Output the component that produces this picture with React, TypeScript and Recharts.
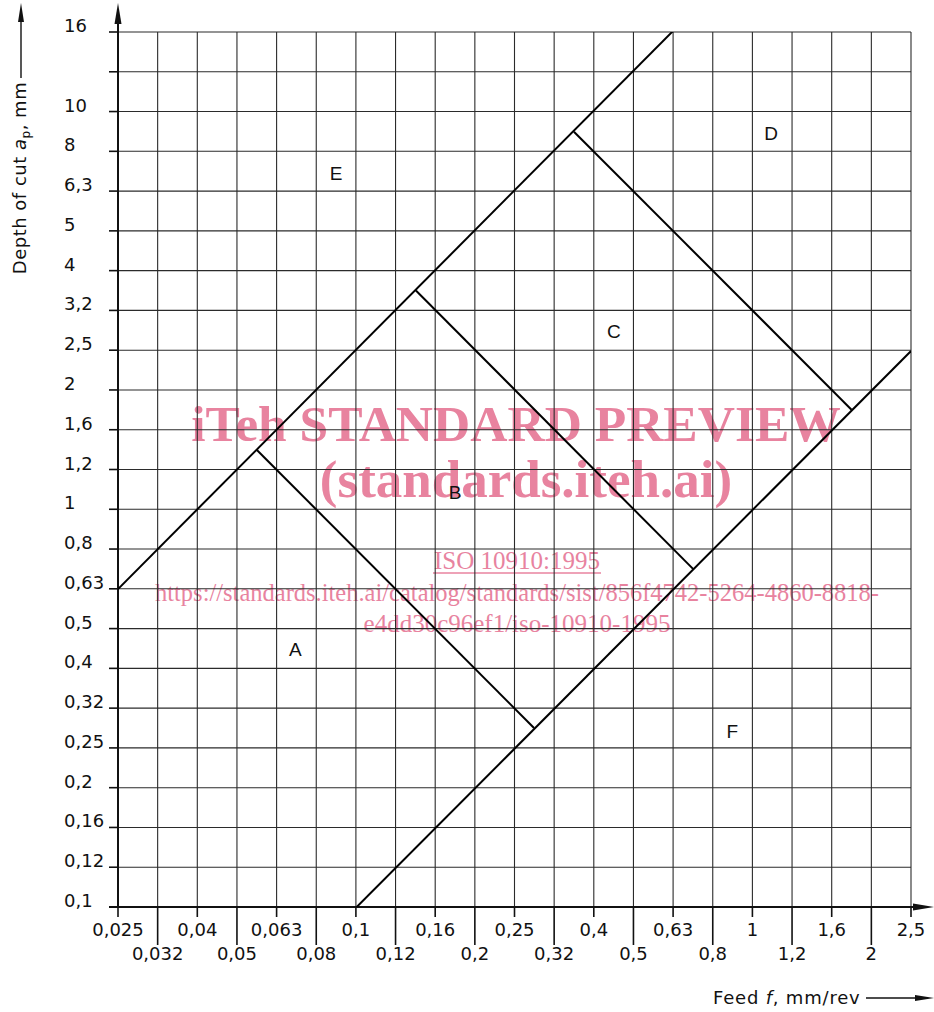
import React from 'react';
import {
  ComposedChart, Line, Scatter, XAxis, YAxis, CartesianGrid, Customized,
} from 'recharts';

const FEED_LABELS = [
  '0,025', '0,032', '0,04', '0,05', '0,063', '0,08', '0,1', '0,12', '0,16', '0,2', '0,25',
  '0,32', '0,4', '0,5', '0,63', '0,8', '1', '1,2', '1,6', '2', '2,5',
];
const DEPTH_LABELS = [
  '0,1', '0,12', '0,16', '0,2', '0,25', '0,32', '0,4', '0,5', '0,63', '0,8', '1', '1,2',
  '1,6', '2', '2,5', '3,2', '4', '5', '6,3', '8', '10', '', '16',
];

// grid lines sit on R10 preferred-number steps (10^0.1 apart)
const FEED_TICKS = FEED_LABELS.map((_, i) => 0.025 * 10 ** (i / 10));
const DEPTH_TICKS = DEPTH_LABELS.map((_, i) => 0.1 * 10 ** (i / 10));

// boundary lines, feed f in mm/rev, depth of cut ap in mm
const UPPER_LIMIT = [{ feed: 0.025, depth: 0.63 }, { feed: 0.63, depth: 16 }];
const LOWER_LIMIT = [{ feed: 0.1, depth: 0.1 }, { feed: 2.5, depth: 2.5 }];
const AB_LIMIT = [{ feed: 0.056, depth: 1.41 }, { feed: 0.28, depth: 0.282 }];
const BC_LIMIT = [{ feed: 0.141, depth: 3.55 }, { feed: 0.705, depth: 0.708 }];
const CD_LIMIT = [{ feed: 0.353, depth: 8.9 }, { feed: 1.77, depth: 1.78 }];

const REGIONS = [
  { name: 'E', feed: 0.0887, depth: 7.0 },
  { name: 'D', feed: 1.11, depth: 8.8 },
  { name: 'C', feed: 0.445, depth: 2.8 },
  { name: 'B', feed: 0.177, depth: 1.1 },
  { name: 'A', feed: 0.07, depth: 0.445 },
  { name: 'F', feed: 0.886, depth: 0.277 },
];

const W = 934;
const H = 1012;
const LEFT = 118;
const TOP = 32;
const RIGHT = 911;
const BOTTOM = 907;
const INK = '#111';
const LETTERING = '"DejaVu Sans", sans-serif';
const PINK = '#e8839f';

function DepthTick(props: any) {
  const { y, payload } = props;
  const i = props.index ?? DEPTH_TICKS.indexOf(payload.value);
  return (
    <g>
      <line x1={LEFT - 9} x2={LEFT} y1={y} y2={y} stroke={INK} strokeWidth={1.6} />
      <text x={64} y={y} fontSize={18} fontFamily={LETTERING} fill={INK}>
        {DEPTH_LABELS[i]}
      </text>
    </g>
  );
}

function FeedTick(props: any) {
  const { x, payload } = props;
  const i = props.index ?? FEED_TICKS.indexOf(payload.value);
  const low = i % 2 === 1;
  return (
    <g>
      <line x1={x} x2={x} y1={BOTTOM} y2={low ? BOTTOM + 38 : BOTTOM + 10} stroke={INK} strokeWidth={1.6} />
      <text x={x} y={low ? 960 : 936} textAnchor="middle" fontSize={18} fontFamily={LETTERING} fill={INK}>
        {FEED_LABELS[i]}
      </text>
    </g>
  );
}

function RegionLetter(props: any) {
  const { cx, cy, payload } = props;
  return (
    <text x={cx} y={cy} textAnchor="middle" dominantBaseline="central" fontSize={19}
      fontFamily='"Liberation Sans", Arial, sans-serif' fill={INK}>
      {payload.name}
    </text>
  );
}

function AxisDecor() {
  return (
    <g>
      {/* axis arrows */}
      <line x1={LEFT} x2={LEFT} y1={BOTTOM} y2={10} stroke={INK} strokeWidth={2} />
      <polygon points={`${LEFT},3 ${LEFT - 3.5},24 ${LEFT + 3.5},24`} fill={INK} />
      <line x1={LEFT - 9} x2={926} y1={BOTTOM} y2={BOTTOM} stroke={INK} strokeWidth={2} />
      <polygon points={`934,${BOTTOM} 913,${BOTTOM - 3.5} 913,${BOTTOM + 3.5}`} fill={INK} />
      {/* y title */}
      <text transform="translate(26,178) rotate(-90)" textAnchor="middle" fontSize={18}
        letterSpacing={0.5} fontFamily={LETTERING} fill={INK}>
        Depth of cut <tspan fontStyle="italic">a</tspan>
        <tspan fontSize={12} dy={4}>p</tspan>
        <tspan dy={-4}>, mm</tspan>
      </text>
      <line x1={21} x2={21} y1={78} y2={10} stroke={INK} strokeWidth={1.4} />
      <polygon points="21,3 18,22 24,22" fill={INK} />
      {/* x title */}
      <text x={713} y={1004} fontSize={18} letterSpacing={0.8} fontFamily={LETTERING} fill={INK}>
        Feed <tspan fontStyle="italic">f</tspan>, mm/rev
      </text>
      <line x1={866} x2={926} y1={998} y2={998} stroke={INK} strokeWidth={1.4} />
      <polygon points="934,998 915,995 915,1001" fill={INK} />
    </g>
  );
}

function Watermark() {
  const serif = '"Liberation Serif", "Times New Roman", serif';
  return (
    <svg width={W} height={H} style={{ position: 'absolute', left: 0, top: 0, zIndex: 0 }}>
      <text x={516} y={441} textAnchor="middle" fontSize={51.5} fontWeight="bold" fontFamily={serif} fill={PINK}>
        iTeh STANDARD PREVIEW
      </text>
      <text x={526} y={497} textAnchor="middle" fontSize={53} fontWeight="bold" fontFamily={serif} fill={PINK}>
        (standards.iteh.ai)
      </text>
      <text x={517} y={569} textAnchor="middle" fontSize={25} fontFamily={serif} fill={PINK}>
        ISO 10910:1995
      </text>
      <line x1={433} x2={601} y1={573} y2={573} stroke={PINK} strokeWidth={1.5} />
      <text x={517} y={601} textAnchor="middle" fontSize={24.5} fontFamily={serif} fill={PINK}>
        https://standards.iteh.ai/catalog/standards/sist/856f4742-5264-4860-8818-
      </text>
      <text x={517} y={632} textAnchor="middle" fontSize={25} fontFamily={serif} fill={PINK}>
        e4dd30c96ef1/iso-10910-1995
      </text>
    </svg>
  );
}

export default function App() {
  const limits = [UPPER_LIMIT, LOWER_LIMIT, AB_LIMIT, BC_LIMIT, CD_LIMIT];
  return (
    <div style={{ position: 'absolute', left: 0, top: 0, width: W, height: H, background: '#fff' }}>
      <Watermark />
      <div style={{ position: 'absolute', left: 0, top: 0, zIndex: 1 }}>
        <ComposedChart
          width={W}
          height={H}
          margin={{ top: TOP, right: W - RIGHT, bottom: H - BOTTOM - 60, left: LEFT - 80 }}
        >
          <CartesianGrid stroke="#2b2b2b" strokeWidth={1.1} />
          <XAxis
            type="number"
            dataKey="feed"
            scale="log"
            domain={[FEED_TICKS[0], FEED_TICKS[FEED_TICKS.length - 1]]}
            ticks={FEED_TICKS}
            interval={0}
            allowDataOverflow
            height={60}
            axisLine={false}
            tickLine={false}
            tick={<FeedTick />}
          />
          <YAxis
            type="number"
            dataKey="depth"
            scale="log"
            domain={[DEPTH_TICKS[0], DEPTH_TICKS[DEPTH_TICKS.length - 1]]}
            ticks={DEPTH_TICKS}
            interval={0}
            allowDataOverflow
            width={80}
            axisLine={false}
            tickLine={false}
            tick={<DepthTick />}
          />
          {limits.map((seg, k) => (
            <Line
              key={k}
              data={seg}
              dataKey="depth"
              type="linear"
              stroke="#000"
              strokeWidth={2}
              dot={false}
              isAnimationActive={false}
            />
          ))}
          <Scatter data={REGIONS} dataKey="depth" shape={RegionLetter} isAnimationActive={false} />
          <Customized component={AxisDecor} />
        </ComposedChart>
      </div>
    </div>
  );
}
